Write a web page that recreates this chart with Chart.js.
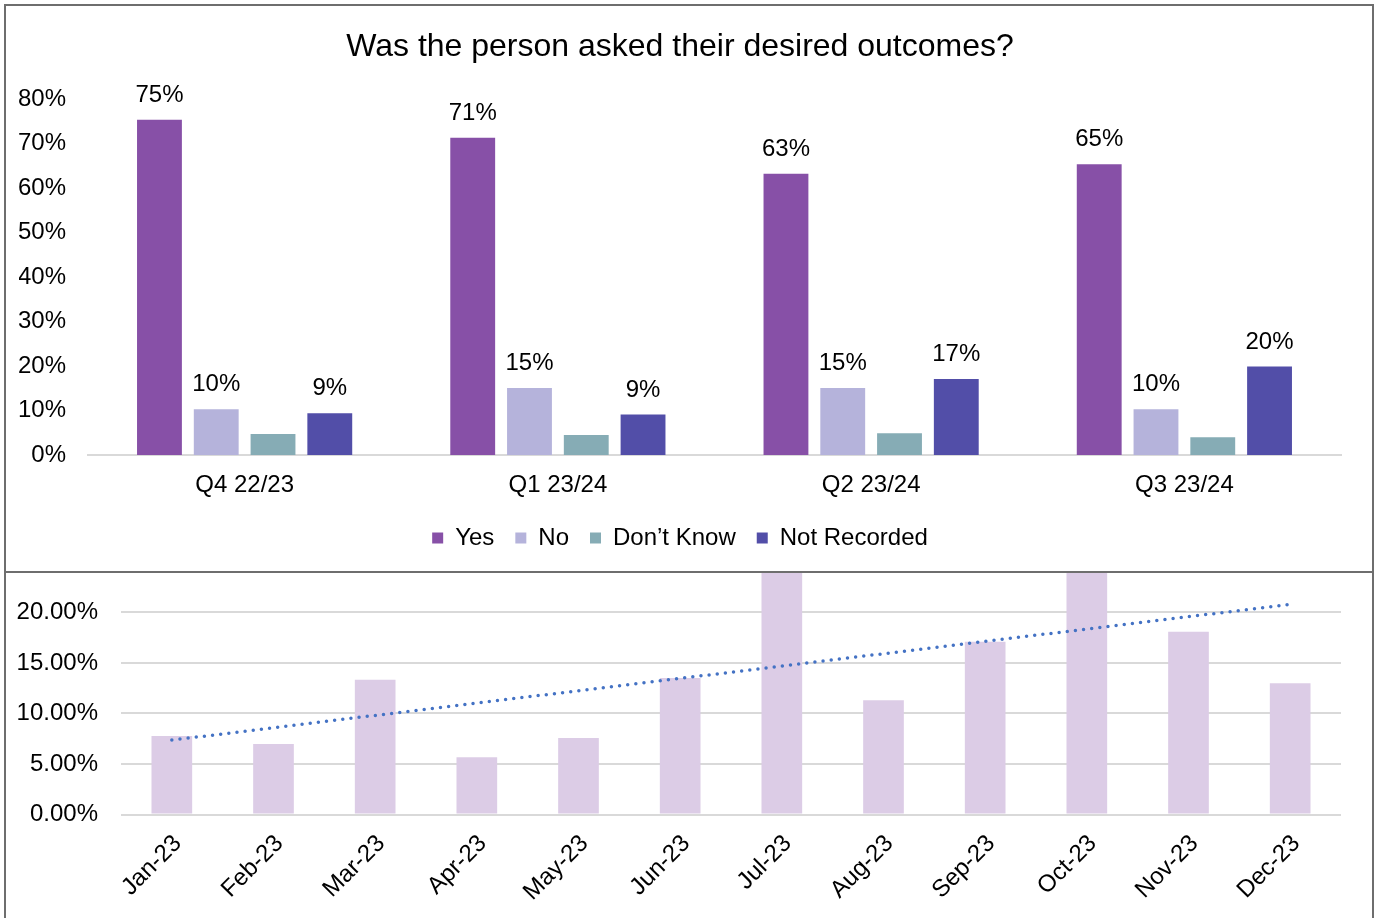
<!DOCTYPE html>
<html>
<head>
<meta charset="utf-8">
<script src="https://cdn.jsdelivr.net/npm/chart.js@4.4.1/dist/chart.umd.min.js"></script>
<style>
  html, body { margin: 0; padding: 0; background: #fff; }
  body { width: 1375px; height: 918px; overflow: hidden; position: relative; font-family: "Liberation Sans", Arial, sans-serif; }
  #monthlyBox { position: absolute; left: 4px; top: 300px; width: 1366px; height: 700px; border: 2px solid #6e6e6e; background: #fff; }
  #monthlyWrap { position: absolute; left: 0; top: 171.5px; width: 1366px; height: 446.5px; }
  #quarterBox { position: absolute; left: 4px; top: 4px; width: 1366px; height: 565px; border: 2px solid #6e6e6e; background: #fff; }
  #quarterWrap { position: absolute; left: 0; top: 0; width: 1366px; height: 565px; }
</style>
</head>
<body>
<div id="monthlyBox"><div id="monthlyWrap"><canvas id="monthlyChart"></canvas></div></div>
<div id="quarterBox"><div id="quarterWrap"><canvas id="quarterChart"></canvas></div></div>
<script>
// quarterly breakdown (percent)
const quarters = ['Q4 22/23', 'Q1 23/24', 'Q2 23/24', 'Q3 23/24'];
const yesPct = [75.4, 71.4, 63.3, 65.4];
const noPct = [10.3, 15.1, 15.1, 10.3];
const dontKnowPct = [4.7, 4.5, 4.9, 4.0];
const notRecordedPct = [9.4, 9.1, 17.1, 19.9];
const quarterTicks = [0, 10, 20, 30, 40, 50, 60, 70, 80];

// monthly rate (percent)
const months = ['Jan-23', 'Feb-23', 'Mar-23', 'Apr-23', 'May-23', 'Jun-23',
                'Jul-23', 'Aug-23', 'Sep-23', 'Oct-23', 'Nov-23', 'Dec-23'];
const monthRate = [7.76, 6.97, 13.33, 5.67, 7.56, 13.5, 25.5, 11.3, 17.1, 29.2, 18.1, 13.0];
const monthTicks = [0, 5, 10, 15, 20, 25, 30];

Chart.defaults.font.family = '"Liberation Sans", Arial, sans-serif';
Chart.defaults.font.size = 24;
Chart.defaults.color = '#000';
Chart.defaults.animation = false;

// linear trendline through the monthly values (least squares)
function trendline(values) {
    const n = values.length;
    let sx = 0, sy = 0, sxy = 0, sxx = 0;
    values.forEach((v, i) => {
        sx += i; sy += v; sxy += i * v; sxx += i * i;
    });
    const slope = (n * sxy - sx * sy) / (n * sxx - sx * sx);
    const intercept = (sy - slope * sx) / n;
    return values.map((v, i) => intercept + slope * i);
}

// value labels above the bars (not for "Don't Know")
const barLabels = {
    id: 'barLabels',
    afterDatasetsDraw(chart) {
        const ctx = chart.ctx;
        ctx.save();
        ctx.font = '24px "Liberation Sans", Arial, sans-serif';
        ctx.fillStyle = '#000';
        ctx.textAlign = 'center';
        ctx.textBaseline = 'alphabetic';
        chart.data.datasets.forEach((ds, di) => {
            if (ds.label === 'Don\u2019t Know') return;
            chart.getDatasetMeta(di).data.forEach((bar, i) => {
                ctx.fillText(Math.round(ds.data[i]) + '%', bar.x, bar.y - 18);
            });
        });
        ctx.restore();
    }
};

new Chart(document.getElementById('monthlyChart'), {
    type: 'bar',
    data: {
        labels: months,
        datasets: [{
            type: 'line',
            label: 'Trend',
            data: trendline(monthRate),
            borderColor: '#4472c4',
            borderWidth: 3.5,
            borderDash: [0, 8.2],
            borderCapStyle: 'round',
            pointRadius: 0,
            fill: false,
            order: 0
        }, {
            label: 'Rate',
            data: monthRate,
            backgroundColor: '#dccce6',
            barPercentage: 0.4,
            categoryPercentage: 1,
            order: 1
        }]
    },
    options: {
        responsive: true,
        maintainAspectRatio: false,
        layout: { padding: { left: 0, right: 31, top: 7.5, bottom: 6 } },
        plugins: { legend: { display: false }, tooltip: { enabled: false } },
        scales: {
            x: {
                grid: { display: false, drawTicks: false },
                border: { display: false },
                ticks: { minRotation: 45, maxRotation: 45, padding: 15, labelOffset: 6 },
                afterFit: axis => { axis.height = 100; }
            },
            y: {
                min: 0,
                max: 30,
                afterBuildTicks: axis => { axis.ticks = monthTicks.map(v => ({ value: v })); },
                ticks: { padding: 23, callback: v => v.toFixed(2) + '%' },
                grid: { color: '#d9d9d9', lineWidth: 2, drawTicks: false },
                border: { display: false },
                afterFit: axis => { axis.width = 115; }
            }
        }
    }
});

new Chart(document.getElementById('quarterChart'), {
    type: 'bar',
    data: {
        labels: quarters,
        datasets: [
            { label: 'Yes', data: yesPct, backgroundColor: '#8750a7' },
            { label: 'No', data: noPct, backgroundColor: '#b5b3db' },
            { label: 'Don\u2019t Know', data: dontKnowPct, backgroundColor: '#86acb5' },
            { label: 'Not Recorded', data: notRecordedPct, backgroundColor: '#524ea8' }
        ]
    },
    options: {
        responsive: true,
        maintainAspectRatio: false,
        categoryPercentage: 0.725,
        barPercentage: 0.79,
        layout: { padding: { left: 13, right: 31, bottom: 11 } },
        plugins: {
            title: {
                display: true,
                text: 'Was the person asked their desired outcomes?',
                font: { size: 32, weight: 'normal' },
                color: '#000',
                padding: { top: 22, bottom: 33 }
            },
            legend: {
                position: 'bottom',
                labels: { boxWidth: 11, boxHeight: 11, padding: 21, color: '#000' }
            },
            tooltip: { enabled: false }
        },
        scales: {
            x: {
                grid: { display: false, drawTicks: false },
                border: { display: true, color: '#d9d9d9', width: 2 },
                ticks: { padding: 16 },
                afterFit: axis => { axis.height = 50; }
            },
            y: {
                min: 0,
                max: 80,
                afterBuildTicks: axis => { axis.ticks = quarterTicks.map(v => ({ value: v })); },
                ticks: { padding: 22, callback: v => v + '%' },
                grid: { display: false, drawTicks: false },
                border: { display: false },
                afterFit: axis => { axis.width = 69; }
            }
        }
    },
    plugins: [barLabels]
});
</script>
</body>
</html>
